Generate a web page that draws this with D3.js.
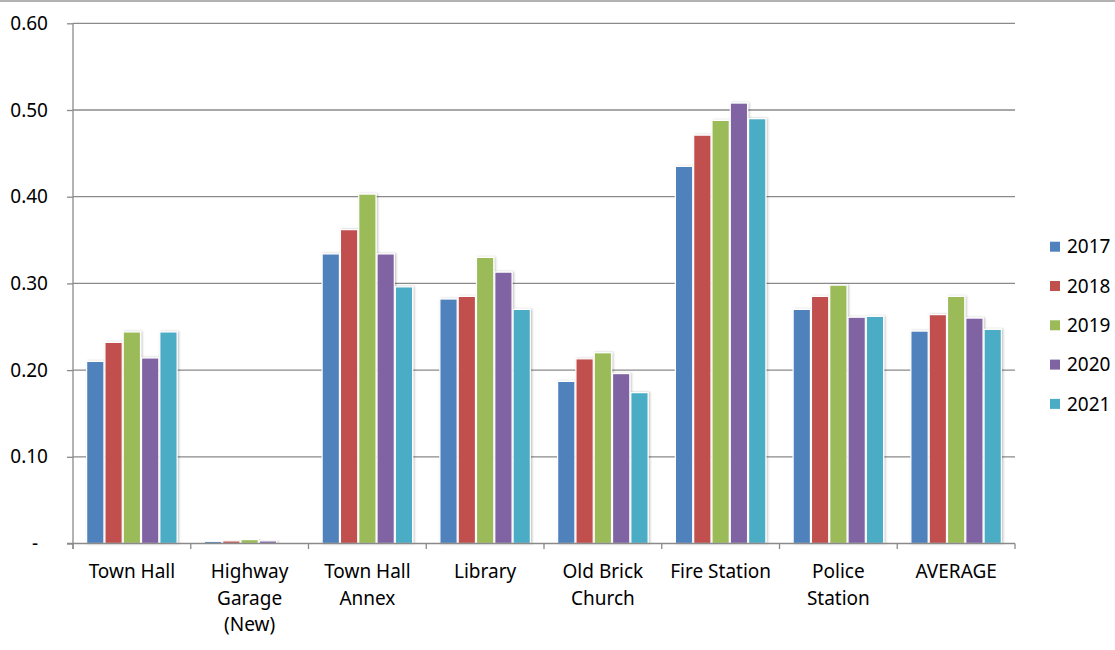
<!DOCTYPE html>
<html>
<head>
<meta charset="utf-8">
<script src="https://cdn.jsdelivr.net/npm/d3@7"></script>
<style>
  body { margin: 0; background: #fff; }
  text { font-family: "Noto Sans", sans-serif; fill: #000; }
</style>
</head>
<body>
<div id="chart"></div>
<script>
  let categories = ['Town Hall', 'Highway Garage (New)', 'Town Hall Annex', 'Library',
    'Old Brick Church', 'Fire Station', 'Police Station', 'AVERAGE'];
  // how each label wraps in the picture
  let categoryLines = [
    ['Town Hall'],
    ['Highway', 'Garage', '(New)'],
    ['Town Hall', 'Annex'],
    ['Library'],
    ['Old Brick', 'Church'],
    ['Fire Station'],
    ['Police', 'Station'],
    ['AVERAGE'],
  ];
  let years = ['2017', '2018', '2019', '2020', '2021'];
  let colors = ['#4F81BD', '#C0504D', '#9BBB59', '#8064A2', '#4BACC6'];

  let v2017 = [0.210, 0.0025, 0.334, 0.282, 0.187, 0.435, 0.270, 0.245];
  let v2018 = [0.232, 0.003, 0.362, 0.285, 0.213, 0.471, 0.285, 0.264];
  let v2019 = [0.244, 0.0045, 0.403, 0.330, 0.220, 0.488, 0.298, 0.285];
  let v2020 = [0.214, 0.003, 0.334, 0.313, 0.196, 0.508, 0.261, 0.260];
  let v2021 = [0.244, 0, 0.296, 0.270, 0.174, 0.490, 0.262, 0.247];
  let series = [v2017, v2018, v2019, v2020, v2021];

  let yTicks = [0, 0.1, 0.2, 0.3, 0.4, 0.5, 0.6];

  let width = 1115, height = 650,
    margin = {top: 23.3, left: 73, right: 100, bottom: 106.5},
    plotW = 1015 - margin.left,
    plotH = 543.5 - margin.top,
    gridColor = '#8a8a8a',
    fontSize = 19;

  let svg = d3.select('#chart').append('svg')
    .attr('width', width)
    .attr('height', height);

  let defs = svg.append('defs');
  let shadow = defs.append('filter').attr('id', 'shadow')
    .attr('x', '-20%').attr('y', '-5%').attr('width', '150%').attr('height', '115%');
  shadow.append('feDropShadow')
    .attr('dx', 1.2).attr('dy', 0).attr('stdDeviation', 0.9)
    .attr('flood-color', '#000').attr('flood-opacity', 0.25);

  // thin border line along the top of the picture
  svg.append('line')
    .attr('x1', 0).attr('x2', width)
    .attr('y1', 1).attr('y2', 1)
    .attr('stroke', '#999').attr('stroke-width', 1.5);

  let g = svg.append('g').attr('transform', 'translate(' + margin.left + ',' + margin.top + ')');

  let yScale = d3.scaleLinear().domain([0, 0.6]).range([plotH, 0]);

  let x0 = d3.scaleBand()
    .domain(categories)
    .range([0, plotW])
    .paddingInner(0.223)
    .paddingOuter(0.1115);

  let x1 = d3.scaleBand()
    .domain(years)
    .range([0, x0.bandwidth()]);

  // gridlines
  g.append('g')
    .selectAll('line')
    .data(yTicks.filter((d) => d > 0))
    .enter()
    .append('line')
    .attr('x1', 0).attr('x2', plotW)
    .attr('y1', (d) => yScale(d)).attr('y2', (d) => yScale(d))
    .attr('stroke', gridColor).attr('stroke-width', 1.3);

  // y axis
  let yAxis = g.append('g')
    .call(d3.axisLeft(yScale)
      .tickValues(yTicks)
      .tickSize(6)
      .tickPadding(19)
      .tickFormat((d) => d === 0 ? '-' : d3.format('.2f')(d)));
  yAxis.select('.domain').remove();
  yAxis.selectAll('.tick line').attr('stroke', gridColor).attr('stroke-width', 1.3);
  yAxis.selectAll('.tick text')
    .attr('font-size', fontSize)
    .attr('font-family', '"Noto Sans", sans-serif')
    .attr('fill', '#000');
  yAxis.selectAll('.tick')
    .filter((d) => d === 0)
    .select('text')
    .attr('x', -35);

  g.append('line')
    .attr('x1', 0).attr('x2', 0)
    .attr('y1', 0).attr('y2', plotH + 5.5)
    .attr('stroke', gridColor).attr('stroke-width', 1.3);

  // bars
  let groups = g.append('g')
    .selectAll('g')
    .data(categories)
    .enter()
    .append('g')
    .attr('transform', (d) => 'translate(' + x0(d) + ',0)');

  groups.selectAll('rect')
    .data((d, i) => years.map((y, j) => ({year: y, value: series[j][i], color: colors[j]})))
    .enter()
    .append('rect')
    .attr('x', (d) => x1(d.year) + 0.5)
    .attr('y', (d) => yScale(d.value))
    .attr('width', x1.bandwidth() - 1)
    .attr('height', (d) => plotH - yScale(d.value))
    .attr('fill', (d) => d.color)
    .attr('stroke', '#fff')
    .attr('stroke-width', 1.2)
    .attr('filter', 'url(#shadow)');

  // x axis line and boundary ticks
  let step = x0.step();
  g.append('line')
    .attr('x1', -6).attr('x2', plotW)
    .attr('y1', plotH).attr('y2', plotH)
    .attr('stroke', gridColor).attr('stroke-width', 1.3);

  g.append('g')
    .selectAll('line')
    .data(d3.range(categories.length + 1))
    .enter()
    .append('line')
    .attr('x1', (i) => i * step).attr('x2', (i) => i * step)
    .attr('y1', plotH).attr('y2', plotH + 5.5)
    .attr('stroke', gridColor).attr('stroke-width', 1.3);

  // category labels
  let labels = g.append('g')
    .selectAll('text')
    .data(categories)
    .enter()
    .append('text')
    .attr('text-anchor', 'middle')
    .attr('font-size', fontSize)
    .attr('transform', (d) => 'translate(' + (x0(d) + x0.bandwidth() / 2) + ',' + (plotH + 34.5) + ')');

  labels.selectAll('tspan')
    .data((d, i) => categoryLines[i])
    .enter()
    .append('tspan')
    .attr('x', 0)
    .attr('y', (d, i) => i * 26.5)
    .text((d) => d);

  // legend
  let legend = svg.append('g')
    .attr('transform', 'translate(1050,246.7)');

  let item = legend.selectAll('g')
    .data(years)
    .enter()
    .append('g')
    .attr('transform', (d, i) => 'translate(0,' + (i * 39.3) + ')');

  item.append('rect')
    .attr('x', 0).attr('y', -5)
    .attr('width', 10).attr('height', 10)
    .attr('fill', (d, i) => colors[i]);

  item.append('text')
    .attr('x', 17)
    .attr('y', 0)
    .attr('dy', '0.35em')
    .attr('font-size', fontSize)
    .text((d) => d);
</script>
</body>
</html>
